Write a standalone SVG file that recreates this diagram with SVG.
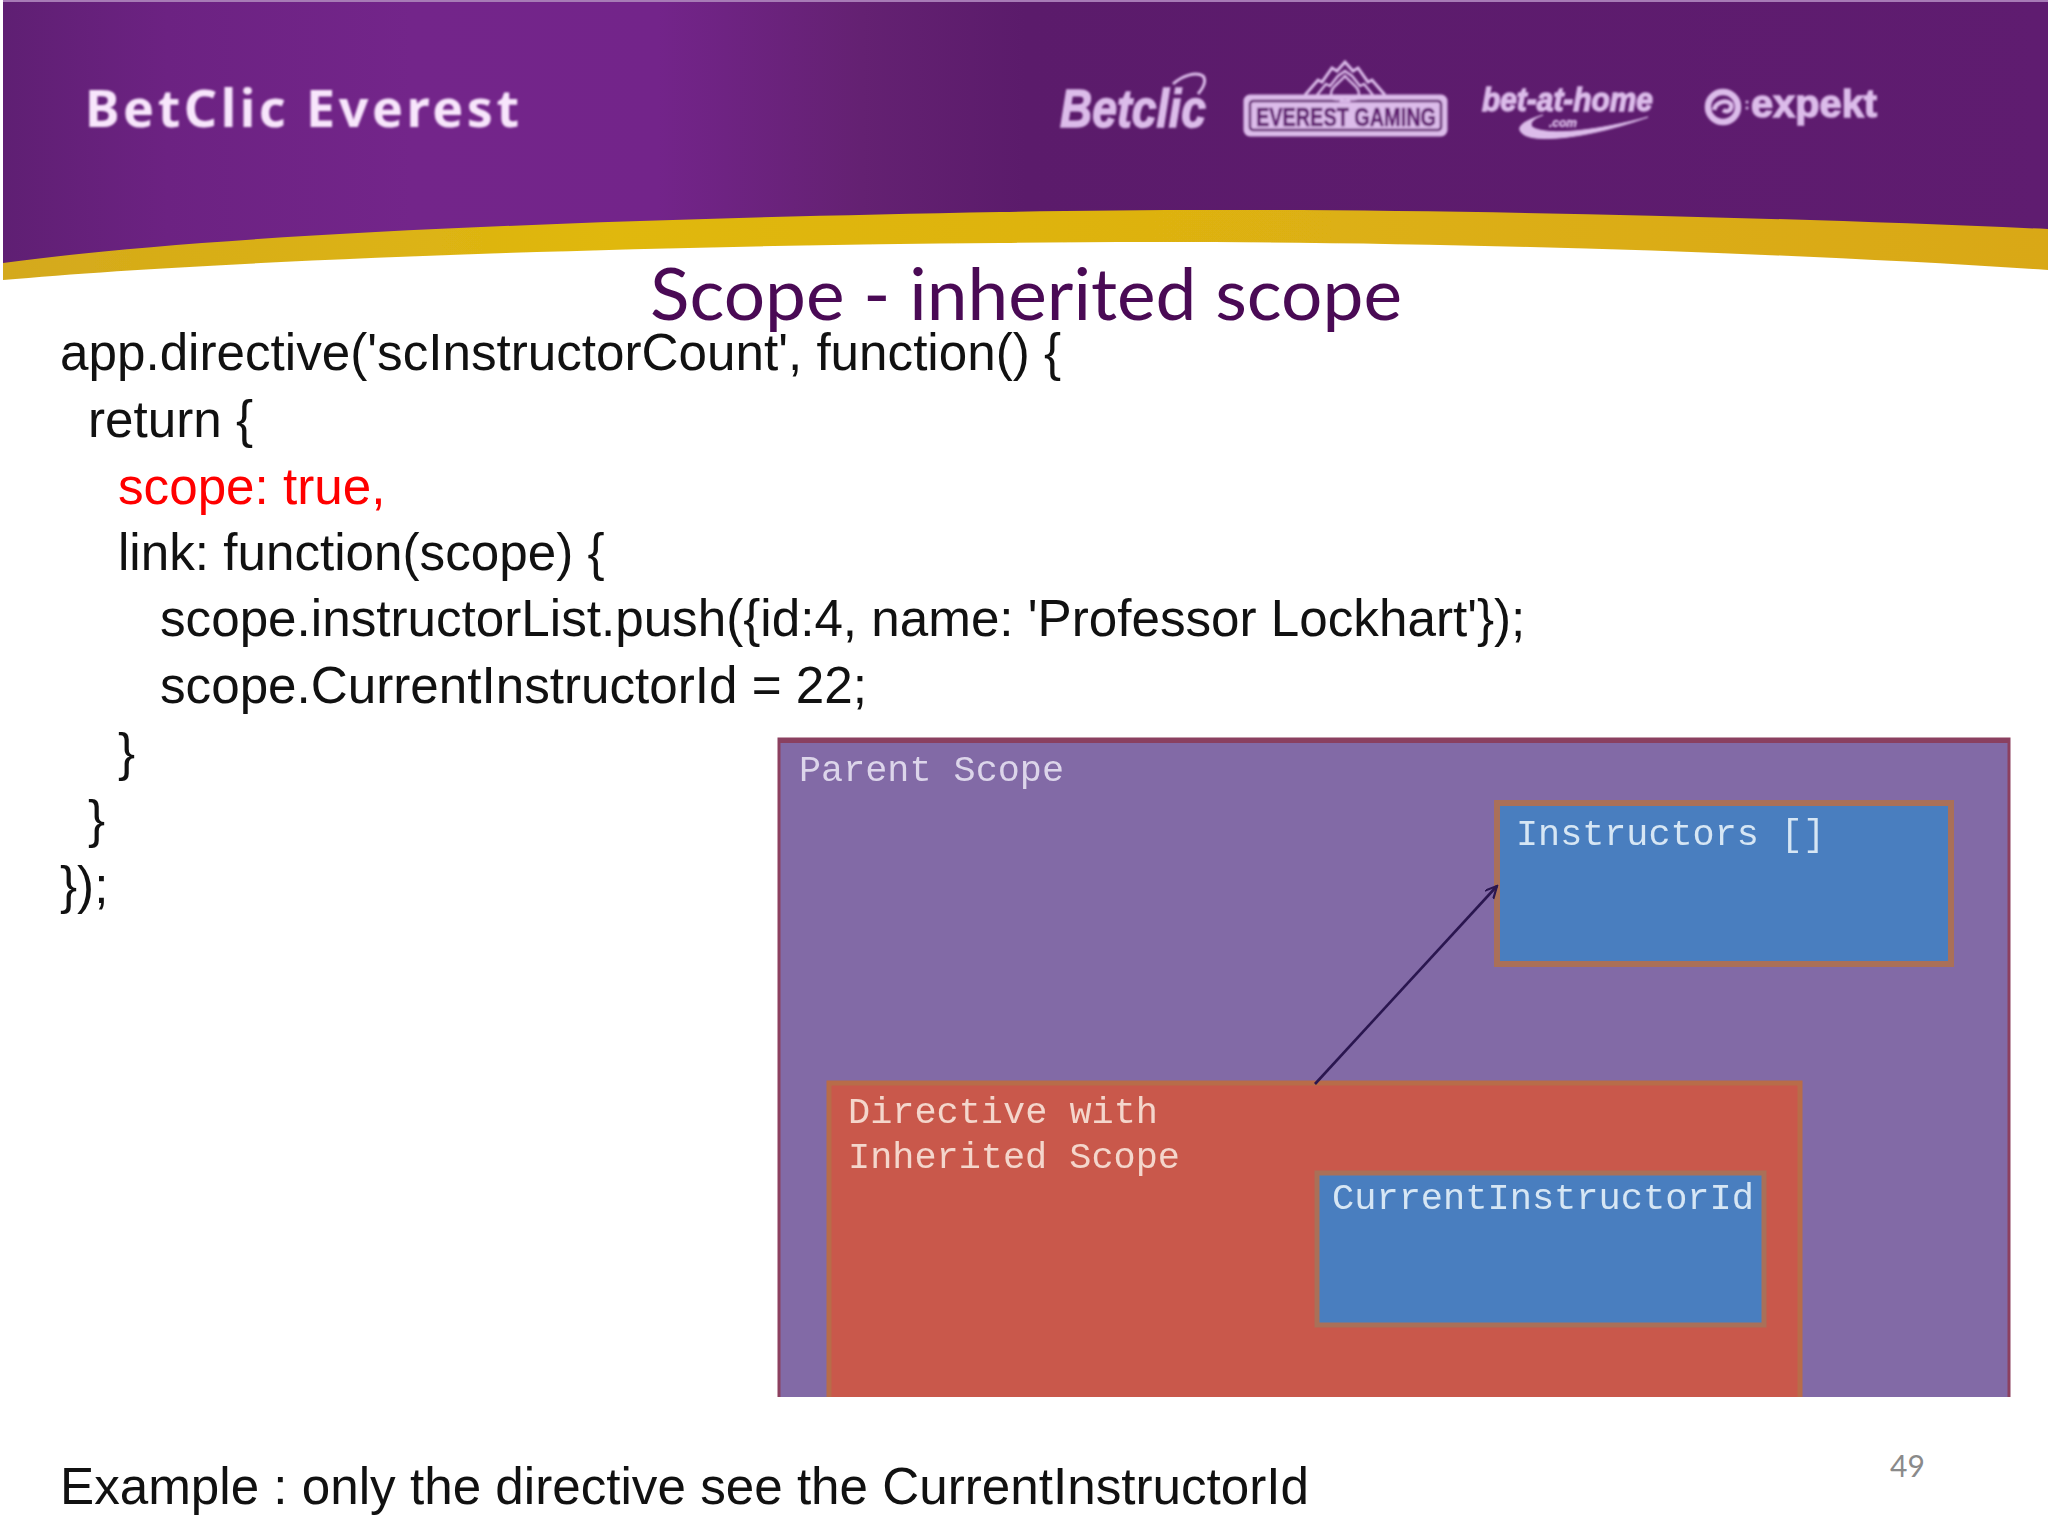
<svg xmlns="http://www.w3.org/2000/svg" width="2048" height="1536" viewBox="0 0 2048 1536">
<style>
.code{font-family:"Liberation Sans",Arial,sans-serif;font-size:51.2px;fill:#111}
.mono{font-family:"Liberation Mono",monospace;font-size:36px}
.logo{font-family:"Liberation Sans",Arial,sans-serif;font-style:italic;font-weight:bold;fill:#dcbcea;stroke:#dcbcea}
.lm{fill:none;stroke:#dcbcea}
</style>
<defs>
<linearGradient id="hdr" x1="0" y1="0" x2="1" y2="0">
<stop offset="0" stop-color="#5f1f73"/><stop offset="0.08" stop-color="#6c2282"/><stop offset="0.2" stop-color="#73258a"/><stop offset="0.32" stop-color="#73248a"/><stop offset="0.42" stop-color="#642172"/><stop offset="0.5" stop-color="#5b1b6b"/><stop offset="1" stop-color="#5f1c70"/>
</linearGradient>
<linearGradient id="gold" x1="0" y1="0" x2="1" y2="0">
<stop offset="0" stop-color="#d4a91c"/><stop offset="0.3" stop-color="#e0b80e"/><stop offset="1" stop-color="#d9a816"/>
</linearGradient>
<marker id="arr" markerWidth="14" markerHeight="14" refX="12" refY="6" orient="auto" markerUnits="userSpaceOnUse"><path d="M0 0L12 6L0 12" fill="none" stroke="#2a1650" stroke-width="2.2"/></marker>
<filter id="soft" x="-5%" y="-5%" width="110%" height="110%"><feGaussianBlur stdDeviation="0.9"/></filter>
<filter id="soft2" x="-2%" y="-2%" width="104%" height="104%"><feGaussianBlur stdDeviation="0.7"/></filter>
</defs>
<rect width="2048" height="1536" fill="#fff"/>
<g id="banner">
<path d="M3 280C200 262 600 246 1000 243C1300 239 1700 247 2048 270V200H3Z" fill="url(#gold)" filter="url(#soft2)"/>
<path d="M3 2H2048V229C1700 214 1300 206 1000 212C560 220 200 236 3 263Z" fill="url(#hdr)"/>
<rect x="3" y="0" width="2045" height="2" fill="#a77bb6"/>
<text x="85" y="127" font-family="Noto Sans,sans-serif" font-size="52" font-weight="700" fill="#f8e6fc" textLength="434" lengthAdjust="spacing" filter="url(#soft)">BetClic Everest</text>
</g>
<g id="logos" filter="url(#soft)">
<text class="logo" x="1060" y="127" font-size="54" stroke-width="1.5" textLength="146" lengthAdjust="spacingAndGlyphs">Betclic</text>
<path class="lm" stroke-width="3" d="M1173 84C1182 76 1196 71 1203 76C1207 81 1203 88 1198 94"/>
<rect x="1245" y="96" width="201" height="39" rx="5" fill="#dcbcea" stroke="#dcbcea" stroke-width="3"/>
<rect x="1250" y="101" width="191" height="29" rx="3" fill="#dcbcea" stroke="#5f1c70" stroke-width="2.5"/>
<text x="1346" y="126" text-anchor="middle" font-family="Liberation Sans,sans-serif" font-weight="bold" font-size="25" fill="#5f1c70" stroke="#5f1c70" stroke-width=".5" textLength="180" lengthAdjust="spacingAndGlyphs">EVEREST GAMING</text>
<path class="lm" stroke-width="3" d="M1305 95L1318 80L1322 82L1332 68L1337 71L1345 62L1353 71L1358 68L1368 82L1372 80L1385 95"/>
<path class="lm" stroke-width="2.5" d="M1317 95L1326 84L1330 86L1338 76L1345 71L1352 76L1360 86L1364 84L1373 95"/>
<path class="lm" stroke-width="2.5" d="M1345 76C1338 84 1330 88 1331 95C1333 101 1340 100 1343 97L1341 101H1349L1347 97C1350 100 1357 101 1359 95C1360 88 1352 84 1345 76Z"/>
<text class="logo" x="1482" y="111" font-size="33" stroke-width="1.4" textLength="171" lengthAdjust="spacingAndGlyphs">bet-at-home</text>
<text class="logo" x="1549" y="127" font-size="12" stroke-width=".4">.com</text>
<path d="M1543 115C1526 120 1516 126 1521 132C1530 145 1590 138 1648 117C1600 130 1548 137 1532 127C1529 122 1535 118 1543 115Z" fill="#dcbcea" stroke="#dcbcea"/>
<circle cx="1723" cy="107" r="15" class="lm" stroke-width="6.5"/>
<path class="lm" stroke-width="4.5" d="M1714 110C1716 102 1726 99 1731 104C1733 110 1727 113 1723 110"/>
<circle cx="1747" cy="102" r="1.5" fill="#dcbcea"/><circle cx="1747" cy="108" r="1.5" fill="#dcbcea"/>
<text x="1751" y="117" font-family="Liberation Sans,sans-serif" font-weight="bold" font-size="38" fill="#dcbcea" stroke="#dcbcea" stroke-width="1.3" textLength="126" lengthAdjust="spacingAndGlyphs">expekt</text>
</g>
<text id="title" x="650" y="320" font-family="Lato,sans-serif" font-size="72" fill="#4a0a55" textLength="752" lengthAdjust="spacingAndGlyphs">Scope - inherited scope</text>
<g id="code">
<text class="code" x="60" y="370">app.directive('scInstructorCount', function() {</text>
<text class="code" x="88" y="437">return {</text>
<text class="code" x="118" y="504" style="fill:#f00">scope: true,</text>
<text class="code" x="118" y="570">link: function(scope) {</text>
<text class="code" x="160" y="636">scope.instructorList.push({id:4, name: 'Professor Lockhart'});</text>
<text class="code" x="160" y="703">scope.CurrentInstructorId = 22;</text>
<text class="code" x="118" y="770">}</text>
<text class="code" x="88" y="837">}</text>
<text class="code" x="60" y="903">});</text>
</g>
<g id="diagram" filter="url(#soft2)">
<g id="parent-scope">
<rect x="779" y="739" width="1230" height="661" fill="#826aa6" stroke="#8c3f5e" stroke-width="3"/>
<rect x="779" y="738" width="1230" height="5" fill="#8a4060"/>
<text class="mono" x="799" y="781" fill="#dcd5ea" textLength="265" lengthAdjust="spacingAndGlyphs">Parent Scope</text>
</g>
<g id="instructors">
<rect x="1497" y="803" width="454" height="161" fill="#4a7ebf" stroke="#aa7058" stroke-width="6"/>
<text class="mono" x="1516" y="845" fill="#d6e6f4" textLength="309" lengthAdjust="spacingAndGlyphs">Instructors []</text>
</g>
<g id="directive">
<rect x="829" y="1083" width="971" height="317" fill="#c9594b" stroke="#b86c48" stroke-width="5"/>
<text class="mono" x="848" y="1123" fill="#f4d6cc" textLength="310" lengthAdjust="spacingAndGlyphs">Directive with</text>
<text class="mono" x="848" y="1168" fill="#f4d6cc" textLength="332" lengthAdjust="spacingAndGlyphs">Inherited Scope</text>
</g>
<g id="current-instructor-id">
<rect x="1317" y="1173" width="447" height="152" fill="#4a7ebf" stroke="#aa7058" stroke-width="5"/>
<text class="mono" x="1332" y="1209" fill="#d6e6f4" textLength="422" lengthAdjust="spacingAndGlyphs">CurrentInstructorId</text>
</g>
<g id="connectors">
<line x1="1315" y1="1084" x2="1497" y2="886" stroke="#2a1650" stroke-width="2.6" marker-end="url(#arr)"/>
</g>
</g>
<rect x="760" y="1397" width="1288" height="20" fill="#fff"/>
<text class="code" x="60" y="1504">Example : only the directive see the CurrentInstructorId</text>
<text x="1890" y="1477" font-family="Lato,sans-serif" font-size="30" fill="#8a8a8a">49</text>
</svg>
